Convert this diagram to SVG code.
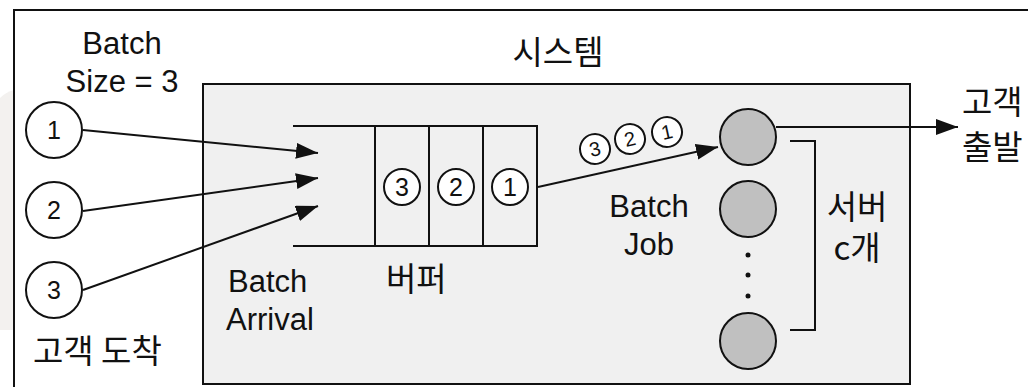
<svg xmlns="http://www.w3.org/2000/svg" width="1028" height="387" viewBox="0 0 1028 387">
<style>
.t{font-family:"Liberation Sans",Arial,sans-serif;font-size:31px;fill:#111}
.k{font-family:"Noto Sans CJK KR","Noto Sans",sans-serif;font-size:33px;fill:#111}
.n{font-family:"Liberation Sans",Arial,sans-serif;fill:#111;text-anchor:middle}
.c{fill:#fff;stroke:#111;stroke-width:2}
.s{fill:#c0c0c0;stroke:#111;stroke-width:2}
.l{stroke:#111;stroke-width:2;fill:none}
.a{stroke:#111;stroke-width:2;fill:none;marker-end:url(#ah)}
</style>
<defs>
<marker id="ah" markerUnits="userSpaceOnUse" markerWidth="24" markerHeight="18" refX="22" refY="8" orient="auto">
<path d="M0,0 L22,8 L0,16 Z" fill="#111"/>
</marker>
</defs>
<rect width="1028" height="387" fill="#fff"/>
<path d="M0,98 Q6,92 14,90 L14,330 L0,330 Z" fill="#f3f1ef"/>
<g id="frame">
<rect x="14" y="10" width="1030" height="400" fill="#fff" stroke="#111" stroke-width="2"/>
</g>
<g id="system">
<rect x="203" y="84" width="707" height="300" fill="#f0f0f0" stroke="#111" stroke-width="2"/>
<text class="k" x="558" y="64" text-anchor="middle">시스템</text>
</g>
<g id="batch-size">
<text class="t" x="122" y="54" text-anchor="middle">Batch</text>
<text class="t" x="122" y="92" text-anchor="middle">Size = 3</text>
</g>
<g id="customer1">
<circle class="c" cx="54" cy="130" r="28"/>
<text class="n" x="54" y="139" font-size="25">1</text>
</g>
<g id="customer2">
<circle class="c" cx="54" cy="210" r="28"/>
<text class="n" x="54" y="219" font-size="25">2</text>
</g>
<g id="customer3">
<circle class="c" cx="54" cy="290" r="28"/>
<text class="n" x="54" y="299" font-size="25">3</text>
</g>
<g id="arrival-label">
<text class="k" x="33" y="363" font-size="35">고객 도착</text>
</g>
<g id="buffer">
<path class="l" d="M293,126 H537 V246 H293 M375,126 V246 M429,126 V246 M483,126 V246"/>
<circle class="c" cx="402" cy="187" r="18"/>
<text class="n" x="402" y="196" font-size="25">3</text>
<circle class="c" cx="456" cy="187" r="18"/>
<text class="n" x="456" y="196" font-size="25">2</text>
<circle class="c" cx="510" cy="187" r="18"/>
<text class="n" x="510" y="196" font-size="25">1</text>
<text class="t" x="228" y="292">Batch</text>
<text class="t" x="226" y="330">Arrival</text>
<text class="k" x="386" y="291">버퍼</text>
</g>
<g id="batch-job">
<g transform="rotate(-12.5 595 149)">
<circle class="c" cx="595" cy="149" r="15"/>
<text class="n" x="595" y="156" font-size="20">3</text>
</g>
<g transform="rotate(-12.5 630 139)">
<circle class="c" cx="630" cy="139" r="15"/>
<text class="n" x="630" y="146" font-size="20">2</text>
</g>
<g transform="rotate(-12.5 667 132)">
<circle class="c" cx="667" cy="132" r="15"/>
<text class="n" x="667" y="139" font-size="20">1</text>
</g>
<text class="t" x="649" y="217" text-anchor="middle">Batch</text>
<text class="t" x="649" y="255" text-anchor="middle">Job</text>
</g>
<g id="servers">
<circle class="s" cx="748" cy="137" r="28"/>
<circle class="s" cx="748" cy="209" r="28"/>
<circle cx="748" cy="255" r="2.5" fill="#111"/>
<circle cx="748" cy="275" r="2.5" fill="#111"/>
<circle cx="748" cy="296" r="2.5" fill="#111"/>
<circle class="s" cx="748" cy="341" r="28"/>
<path class="l" d="M790,141 H815 V330 H790"/>
<text class="k" x="857" y="219" text-anchor="middle" font-size="31">서버</text>
<text class="k" x="857" y="260" text-anchor="middle" font-size="31">c개</text>
</g>
<g id="departure">
<text class="k" x="962" y="114" font-size="34">고객</text>
<text class="k" x="962" y="159" font-size="34">출발</text>
</g>
<g id="connectors">
<line class="a" x1="83" y1="130" x2="318" y2="153"/>
<line class="a" x1="83" y1="211" x2="318" y2="178"/>
<line class="a" x1="83" y1="290" x2="318" y2="206"/>
<line class="a" x1="538" y1="187" x2="718" y2="147"/>
<line class="a" x1="776" y1="127" x2="958" y2="127"/>
</g>
</svg>
